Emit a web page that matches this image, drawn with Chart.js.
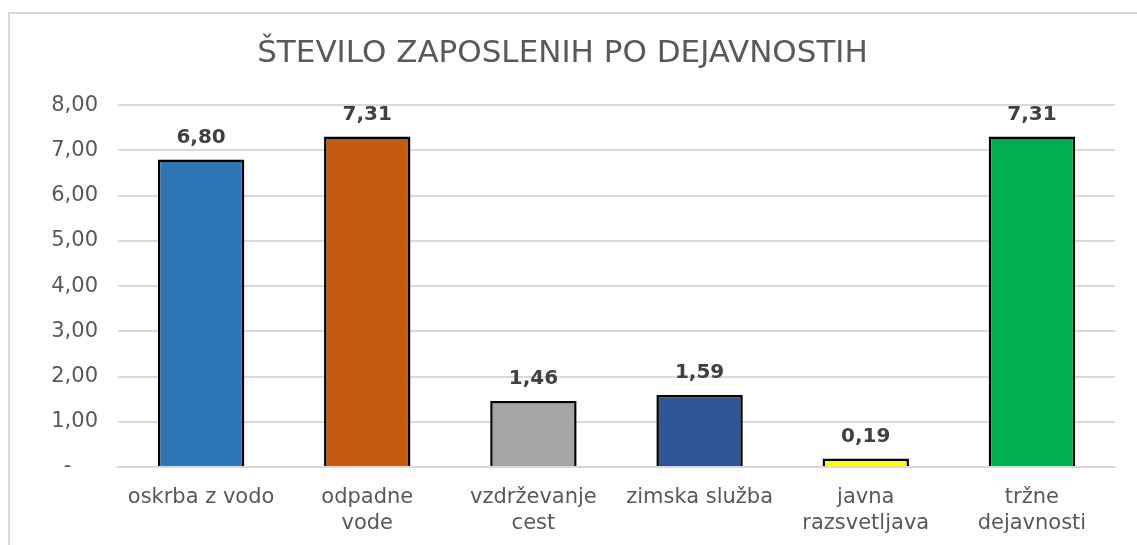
<!DOCTYPE html>
<html>
<head>
<meta charset="utf-8">
<script src="https://cdn.jsdelivr.net/npm/chart.js@4/dist/chart.umd.min.js"></script>
<style>
    body { margin: 0; background: #fff; overflow: hidden; }
    .frame {
        position: absolute;
        left: 8px;
        top: 12px;
        width: 1140px;
        height: 545px;
        border: 2px solid #d9d9d9;
        box-sizing: border-box;
    }
    .frame canvas { position: absolute; left: 0; top: 0; }
</style>
</head>
<body>
<div class="frame">
    <canvas id="chart" width="1127" height="531"></canvas>
</div>
<script>
// ===== DATA =====
const categories = [
    'oskrba z vodo',
    ['odpadne', 'vode'],
    ['vzdrževanje', 'cest'],
    'zimska služba',
    ['javna', 'razsvetljava'],
    ['tržne', 'dejavnosti']
];
const employees = [6.80, 7.31, 1.46, 1.59, 0.19, 7.31];
const barColors = ['#2E75B6', '#C55A11', '#A5A5A5', '#2F5597', '#FFFF00', '#00B050'];
const yTicks = [0, 1, 2, 3, 4, 5, 6, 7, 8];

const fontFamily = "'DejaVu Sans', sans-serif";
const textColor = '#595959';

// Slovene number format: comma as decimal separator
const fmt = (v) => v.toFixed(2).replace('.', ',');

// Draws value labels above each bar
const valueLabels = {
    id: 'valueLabels',
    afterDatasetsDraw(chart) {
        const ctx = chart.ctx;
        const meta = chart.getDatasetMeta(0);
        ctx.save();
        ctx.font = `bold 20px ${fontFamily}`;
        ctx.fillStyle = '#404040';
        ctx.textAlign = 'center';
        ctx.textBaseline = 'middle';
        meta.data.forEach((bar, i) => {
            ctx.fillText(fmt(employees[i]), bar.x, bar.y - 22);
        });
        ctx.restore();
    }
};

new Chart(document.getElementById('chart'), {
    type: 'bar',
    data: {
        labels: categories,
        datasets: [{
            data: employees,
            backgroundColor: barColors,
            borderColor: '#000',
            borderWidth: 2.5,
            borderSkipped: 'bottom',
            categoryPercentage: 1,
            barPercentage: 0.52
        }]
    },
    options: {
        responsive: false,
        animation: { duration: 0 },
        layout: { padding: { left: 0, right: 22, top: 0, bottom: 0 } },
        plugins: {
            legend: { display: false },
            tooltip: { enabled: false },
            title: {
                display: true,
                text: 'ŠTEVILO ZAPOSLENIH PO DEJAVNOSTIH',
                color: textColor,
                font: { family: fontFamily, size: 31, weight: 'normal' },
                padding: { top: 21, bottom: 33 }
            }
        },
        scales: {
            x: {
                afterFit: (scale) => { scale.height = 78; },
                grid: { display: false, drawTicks: false },
                border: { display: true, color: '#d9d9d9', width: 2 },
                ticks: {
                    color: textColor,
                    padding: 17,
                    maxRotation: 0,
                    autoSkip: false,
                    font: { family: fontFamily, size: 21, lineHeight: 1.25 }
                }
            },
            y: {
                min: 0,
                max: 8,
                afterFit: (scale) => { scale.width = 108; },
                afterBuildTicks: (scale) => {
                    scale.ticks = yTicks.map(v => ({ value: v }));
                },
                grid: { color: '#d9d9d9', lineWidth: 2, drawTicks: false },
                border: { display: false },
                ticks: {
                    color: textColor,
                    padding: 20,
                    font: { family: fontFamily, size: 21 },
                    callback: (v) => v === 0 ? '-    ' : fmt(v)
                }
            }
        }
    },
    plugins: [valueLabels]
});
</script>
</body>
</html>
